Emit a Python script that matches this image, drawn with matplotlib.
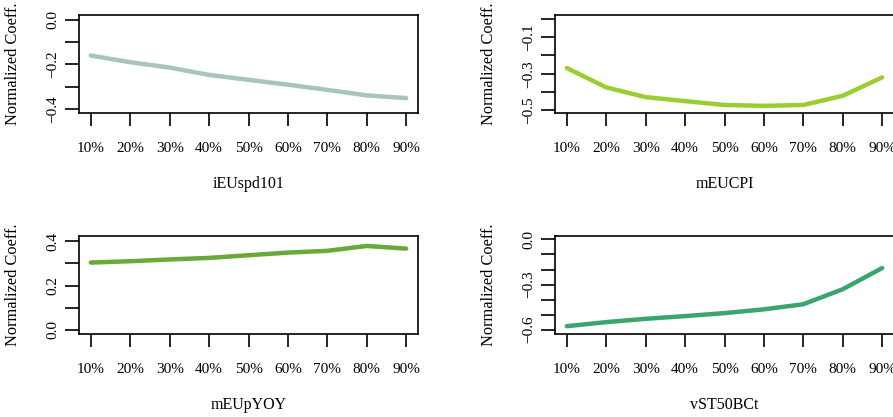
import matplotlib
matplotlib.use('Agg')
import matplotlib.pyplot as plt

plt.rcParams['font.family'] = ['Liberation Serif', 'DejaVu Serif']

# quantile levels on the x axis
quantiles = [1, 2, 3, 4, 5, 6, 7, 8, 9]
quant_labels = ['10%', '20%', '30%', '40%', '50%', '60%', '70%', '80%', '90%']

# normalized coefficients per variable
iEUspd101 = [-0.160, -0.190, -0.214, -0.247, -0.269, -0.291, -0.314, -0.339, -0.351]
mEUCPI = [-0.269, -0.375, -0.428, -0.450, -0.471, -0.476, -0.471, -0.421, -0.320]
mEUpYOY = [0.304, 0.310, 0.318, 0.325, 0.337, 0.349, 0.357, 0.379, 0.367]
vST50BCt = [-0.577, -0.550, -0.528, -0.510, -0.490, -0.465, -0.431, -0.331, -0.190]

# y ticks and which of them get a label
yt_iEU = [0.0, -0.1, -0.2, -0.3, -0.4]
yl_iEU = ['0.0', '', '\u22120.2', '', '\u22120.4']
yt_CPI = [0.0, -0.1, -0.2, -0.3, -0.4, -0.5]
yl_CPI = ['', '\u22120.1', '', '\u22120.3', '', '\u22120.5']
yt_YOY = [0.0, 0.1, 0.2, 0.3, 0.4]
yl_YOY = ['0.0', '', '0.2', '', '0.4']
yt_ST = [0.0, -0.1, -0.2, -0.3, -0.4, -0.5, -0.6]
yl_ST = ['0.0', '', '', '\u22120.3', '', '', '\u22120.6']

panels = [
    ('iEUspd101', iEUspd101, '#a9c5b9', yt_iEU, yl_iEU, (-0.418, 0.022), [79, 15, 418, 113]),
    ('mEUCPI', mEUCPI, '#9acd32', yt_CPI, yl_CPI, (-0.515, 0.021), [555, 15, 894, 113]),
    ('mEUpYOY', mEUpYOY, '#68a93a', yt_YOY, yl_YOY, (-0.019, 0.424), [79, 236, 418, 334]),
    ('vST50BCt', vST50BCt, '#3aa56c', yt_ST, yl_ST, (-0.629, 0.023), [555, 236, 894, 334]),
]

W, H = 893, 417
fig = plt.figure(figsize=(W / 100, H / 100), dpi=100)

for name, vals, col, yt, yl, ylim, box in panels:
    x0, y0, x1, y1 = box
    ax = fig.add_axes([x0 / W, 1 - y1 / H, (x1 - x0) / W, (y1 - y0) / H])
    ax.plot(quantiles, vals, color=col, lw=3.2, solid_capstyle='round')
    ax.set_xlim(0.7, 9.3)
    ax.set_ylim(*ylim)
    ax.set_xticks(quantiles)
    ax.set_xticklabels(quant_labels, fontsize=11)
    ax.set_yticks(yt)
    ax.set_yticklabels(yl, fontsize=11, rotation=90, va='center')
    ax.tick_params(axis='x', length=9, width=1.2, pad=12)
    ax.tick_params(axis='y', length=10, width=1.2, pad=4)
    for s in ax.spines.values():
        s.set_linewidth(1.2)
    ax.set_xlabel(name, fontsize=11.5, labelpad=15)
    ax.set_ylabel('Normalized Coeff.', fontsize=11.8)
    ax.yaxis.set_label_coords(-58 / 339, 0.5)

fig.savefig('out.png', dpi=100)
